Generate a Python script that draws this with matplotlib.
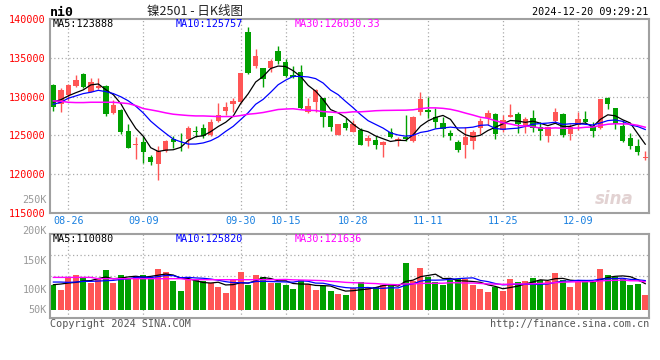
import matplotlib
matplotlib.use("Agg")
import matplotlib.pyplot as plt
import numpy as np

# ---- data (ni0, daily K) ----
date_labels = ['08-26', '09-09', '09-30', '10-15', '10-28', '11-11', '11-25', '12-09']
date_pos = [2, 12, 25, 31, 40, 50, 60, 70]

opens = [131540, 129010, 130210, 131410, 132910, 130640, 131160, 131410, 127900, 128290,
         125560, 123700, 124210, 122240, 121340, 122930, 124510, 124450, 124560, 125600,
         125930, 124990, 126870, 128160, 129100, 129270, 138360, 133940, 133640, 133640,
         135870, 134500, 132790, 133210, 128070, 129270, 129790, 127510, 124990, 126570,
         125500, 125710, 124220, 124430, 123700, 125420, 124220, 124770, 124220, 127990,
         128290, 127390, 126660, 125370, 124090, 123790, 124340, 125930, 127300, 127770,
         125720, 127430, 127770, 126270, 127220, 126060, 124860, 126870, 127770, 125160,
         126360, 127130, 126230, 125930, 129790, 128500, 126230, 124640, 123660, 122070]
highs = [131630, 131160, 131630, 132790, 133000, 132360, 132360, 131500, 129570, 128370,
         126440, 124800, 124860, 122500, 123570, 124430, 124980, 125370, 126270, 126230,
         126490, 127130, 129140, 129270, 129790, 133090, 138910, 136130, 133730, 134840,
         136510, 134840, 133940, 134070, 129870, 130990, 129790, 127510, 126490, 127210,
         127000, 125930, 125070, 124860, 124300, 125930, 124730, 127640, 127520, 130600,
         130000, 128590, 127430, 125760, 124430, 126100, 125720, 127220, 128290, 127860,
         127640, 129060, 127990, 127430, 128290, 126700, 126100, 128540, 127940, 126490,
         127990, 128160, 126700, 129700, 130000, 128500, 127000, 125290, 124560, 122930]
lows = [128200, 128070, 129570, 131290, 131070, 130560, 130990, 127560, 127730, 125240,
        123400, 121900, 121430, 121130, 119200, 122840, 123440, 123050, 123360, 124730,
        124640, 124860, 126790, 127640, 128070, 129140, 132910, 133640, 131290, 133210,
        134200, 132490, 132360, 128410, 127860, 128070, 126020, 125630, 124990, 125710,
        125420, 123700, 123570, 123230, 122160, 124640, 123570, 124220, 124130, 127640,
        127220, 125930, 124730, 124470, 122840, 122070, 123190, 125200, 126360, 124560,
        125500, 127430, 125290, 125290, 125500, 124430, 124090, 126570, 124820, 124430,
        125720, 126570, 124730, 125840, 128410, 125840, 124130, 123270, 122500, 121770]
closes = [128710, 130810, 131500, 132140, 131200, 131890, 131410, 127810, 128930, 125410,
          123440, 123900, 122800, 121510, 123010, 124300, 124130, 124350, 125930, 125500,
          124860, 126790, 127640, 128670, 129490, 133000, 133000, 135230, 132270, 134590,
          134590, 132700, 132530, 128590, 128840, 130860, 127340, 126020, 126490, 125890,
          126490, 123790, 124690, 123790, 124090, 124730, 124560, 124520, 127430, 129740,
          128070, 126790, 125840, 124900, 123060, 124820, 125460, 126870, 127940, 125160,
          127000, 127640, 126490, 127130, 125930, 125630, 126100, 128030, 124990, 126060,
          127130, 126790, 125630, 129700, 129010, 126490, 124220, 123570, 122800, 122240]
volumes = [79300, 67400, 97500, 103100, 94400, 82500, 92800, 115000, 82500, 103100,
           96000, 100700, 103100, 92800, 117400, 109400, 88800, 65000, 91200, 89600,
           88000, 82500, 74500, 58700, 93600, 110200, 78500, 101500, 97500, 82500,
           83300, 77700, 69800, 91200, 81700, 67400, 75300, 65000, 57900, 54700,
           72100, 86400, 74500, 74500, 78500, 81700, 69800, 131700, 88800, 119700,
           96700, 84800, 79300, 91200, 92800, 92800, 78500, 69800, 61000, 73700,
           65000, 93600, 86400, 87200, 96000, 91200, 87200, 106200, 91200, 74500,
           84800, 88800, 88800, 117400, 103100, 98300, 93600, 79300, 81700, 55500]

# moving-average values before enough bars are on screen
ma5_head = [129300, 129600, 130100, 130500]
ma10_head = [129010, 129270, 129790, 130090, 130390, 130560, 130810, 130640, 130390]
ma30_head = [129440, 129400, 129270, 129230, 129230, 129270, 129270, 129270, 129270, 129190,
             129100, 128840, 128460, 128290, 128110, 127900, 127730, 127640, 127560, 127510,
             127510, 127470, 127430, 127430, 127430, 127560, 127730, 127820, 127950]
vma5_head = [79300, 80900, 83300, 84800]
vma10_head = [85600, 85600, 84800, 85600, 87200, 87200, 88000, 88800, 89600]
vma30_head = [96700] * 6 + [93600] * 12 + [91200] * 11


def moving_avg(vals, n, head):
    out = list(head)
    for i in range(len(head), len(vals)):
        out.append(np.mean(vals[i - n + 1:i + 1]))
    return out


RED = '#ff5555'
GREEN = '#00a000'
GRID = '#aaaaaa'
FRAME = '#a0a0a0'
MONO = 'DejaVu Sans Mono'

x = np.arange(len(closes))
o = np.array(opens)
c = np.array(closes)
cols = [RED if cc >= oo else GREEN for oo, cc in zip(o, c)]

fig = plt.figure(figsize=(6.6, 3.6), dpi=100)
fig.patch.set_facecolor('white')


def px(l, t, r, b):
    return [l / 660, 1 - b / 360, (r - l) / 660, (b - t) / 360]


ax = fig.add_axes(px(50, 19, 649, 213))
axv = fig.add_axes(px(50, 234, 649, 318))

for a in (ax, axv):
    a.set_xlim(-0.45, 79.5)
    for s in a.spines.values():
        s.set_color(FRAME)
        s.set_linewidth(1.5)
    for p in date_pos:
        a.axvline(p, color=GRID, lw=0.9, ls=(0, (1, 2)), zorder=0)
    a.tick_params(length=0)

# price panel
ax.set_ylim(115000, 140000)
for lv in [120000, 125000, 130000, 135000]:
    ax.axhline(lv, color=GRID, lw=0.9, ls=(0, (1, 2)), zorder=0)
ax.vlines(x, lows, highs, colors=cols, lw=1, zorder=2)
body = np.maximum(np.abs(c - o), 80)
ax.bar(x, body, bottom=np.minimum(o, c), width=0.72, color=cols, zorder=3)
ax.plot(x, moving_avg(closes, 5, ma5_head), color='black', lw=0.9, zorder=4)
ax.plot(x, moving_avg(closes, 10, ma10_head), color='#0000ff', lw=0.9, zorder=4)
ax.plot(x, moving_avg(closes, 30, ma30_head), color='#ff00ff', lw=1.1, zorder=4)

ax.set_yticks([115000, 120000, 125000, 130000, 135000, 140000])
ax.set_yticklabels(['115000', '120000', '125000', '130000', '135000', '140000'],
                   color='red', fontsize=7.3, family=MONO)
ax.tick_params(axis='y', pad=3)
ax.set_xticks(date_pos)
ax.set_xticklabels(date_labels, color='#1a80e0', fontsize=7.3, family=MONO)
ax.tick_params(axis='x', pad=2)

ax.text(0.005, 0.972, 'MA5:123888', transform=ax.transAxes, color='black',
        fontsize=7.3, family=MONO, va='center')
ax.text(0.209, 0.972, 'MA10:125757', transform=ax.transAxes, color='#0000ff',
        fontsize=7.3, family=MONO, va='center')
ax.text(0.409, 0.972, 'MA30:126030.33', transform=ax.transAxes, color='#ff00ff',
        fontsize=7.3, family=MONO, va='center')
ax.text(0.975, 0.07, 'sina', transform=ax.transAxes, color='#e2d2d2', fontsize=12,
        fontweight='bold', style='italic', ha='right', va='center', zorder=1)

# volume panel
axv.set_ylim(0, 200000)
for lv in [50000, 100000, 150000]:
    axv.axhline(lv, color=GRID, lw=0.9, ls=(0, (1, 2)), zorder=0)
vol = np.array(volumes)
vol_base = 18000
axv.bar(x, vol - vol_base, bottom=vol_base, width=0.8, color=cols, zorder=2)
axv.plot(x, moving_avg(volumes, 5, vma5_head), color='black', lw=0.9, zorder=3)
axv.plot(x, moving_avg(volumes, 10, vma10_head), color='#0000ff', lw=0.9, zorder=3)
axv.plot(x, moving_avg(volumes, 30, vma30_head), color='#ff00ff', lw=1.0, zorder=3)
axv.set_xticks([])
axv.set_yticks([])
axv.text(0.005, 0.94, 'MA5:110080', transform=axv.transAxes, color='black',
         fontsize=7.3, family=MONO, va='center')
axv.text(0.209, 0.94, 'MA10:125820', transform=axv.transAxes, color='#0000ff',
         fontsize=7.3, family=MONO, va='center')
axv.text(0.409, 0.94, 'MA30:121636', transform=axv.transAxes, color='#ff00ff',
         fontsize=7.3, family=MONO, va='center')

# volume scale labels (drawn beside the panels as on the original)
for lab, ypx in [('250K', 200), ('200K', 231), ('150K', 261), ('100K', 290), ('50K', 310)]:
    fig.text(47 / 660, 1 - ypx / 360, lab, color='#999999', fontsize=7.3, family=MONO,
             ha='right', va='center')

# header / footer
fig.text(50 / 660, 1 - 12 / 360, 'ni0', fontsize=9.5, family=MONO, fontweight='bold',
         va='center', ha='left')
fig.text(195 / 660, 1 - 12 / 360, '镍2501 - 日K线图', fontsize=9,
         family=['Noto Sans CJK SC', 'DejaVu Sans'], va='center', ha='center', color='#222222')
fig.text(648 / 660, 1 - 12 / 360, '2024-12-20 09:29:21', fontsize=7.3, family=MONO,
         va='center', ha='right')
fig.text(50 / 660, 1 - 324 / 360, 'Copyright 2024 SINA.COM', fontsize=7.3, family=MONO,
         va='center', ha='left', color='#555555')
fig.text(649 / 660, 1 - 324 / 360, 'http://finance.sina.com.cn', fontsize=7.3, family=MONO,
         va='center', ha='right', color='#555555')

fig.savefig('out.png', dpi=100)
